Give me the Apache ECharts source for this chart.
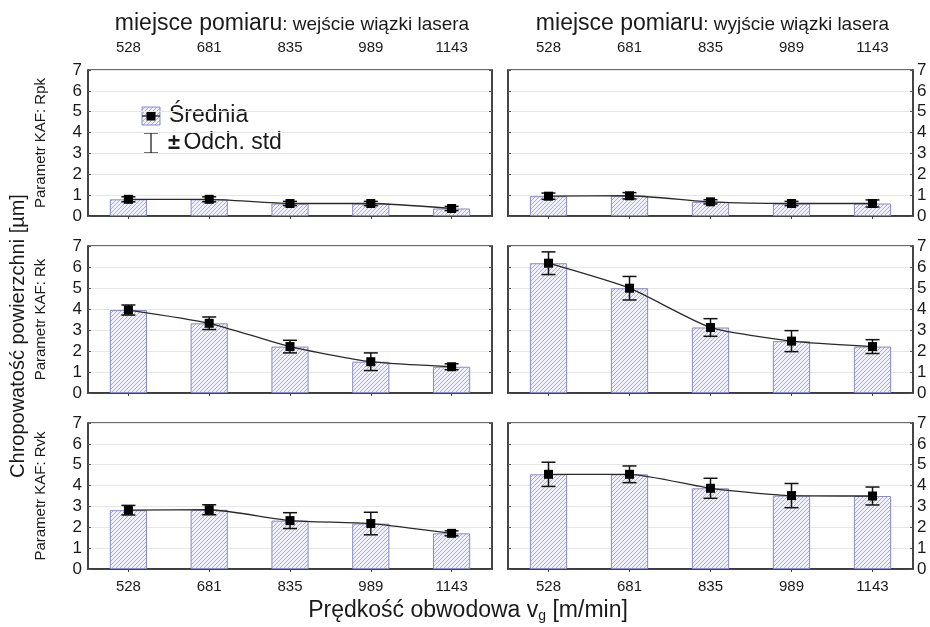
<!DOCTYPE html>
<html><head><meta charset="utf-8">
<script src="https://cdn.jsdelivr.net/npm/echarts@6/dist/echarts.min.js"></script>
<style>html,body{margin:0;padding:0;background:#fff}#c{width:930px;height:627px}</style>
</head><body><div id="c"></div>
<script>
// ---- data ----
const categories = ['528', '681', '835', '989', '1143'];
const yTicks = [0, 1, 2, 3, 4, 5, 6, 7];
const rowLabels = ['Parametr KAF: Rpk', 'Parametr KAF: Rk', 'Parametr KAF: Rvk'];
const colTitlesMain = ['miejsce pomiaru', 'miejsce pomiaru'];
const colTitlesSub = [': wejście wiązki lasera', ': wyjście wiązki lasera'];

const rpkIn = [0.80, 0.80, 0.60, 0.60, 0.36];
const rpkInSd = [0.12, 0.12, 0.10, 0.10, 0.10];
const rpkOut = [0.95, 0.97, 0.68, 0.60, 0.60];
const rpkOutSd = [0.15, 0.15, 0.10, 0.10, 0.17];
const rkIn = [3.95, 3.32, 2.21, 1.49, 1.25];
const rkInSd = [0.24, 0.30, 0.30, 0.42, 0.14];
const rkOut = [6.18, 4.99, 3.12, 2.47, 2.21];
const rkOutSd = [0.54, 0.56, 0.42, 0.50, 0.33];
const rvkIn = [2.82, 2.84, 2.32, 2.18, 1.71];
const rvkInSd = [0.23, 0.24, 0.38, 0.54, 0.12];
const rvkOut = [4.54, 4.54, 3.87, 3.52, 3.50];
const rvkOutSd = [0.58, 0.40, 0.48, 0.58, 0.43];

const panels = [
  [rpkIn, rpkInSd], [rpkOut, rpkOutSd],
  [rkIn, rkInSd], [rkOut, rkOutSd],
  [rvkIn, rvkInSd], [rvkOut, rvkOutSd]
];

// ---- hatch pattern ----
function hatch() {
  const n = 4;
  const c = document.createElement('canvas');
  c.width = n; c.height = n;
  const g = c.getContext('2d');
  g.fillStyle = '#f0f0fa'; g.fillRect(0, 0, n, n);
  g.strokeStyle = '#a6a6da'; g.lineWidth = 0.9;
  g.beginPath();
  g.moveTo(-1, n + 1); g.lineTo(n + 1, -1);
  g.moveTo(-1, 1); g.lineTo(1, -1);
  g.moveTo(n - 1, n + 1); g.lineTo(n + 1, n - 1);
  g.stroke();
  return c;
}
const pat = { image: hatch(), repeat: 'repeat' };

const FONT = 'Liberation Sans, Arial, sans-serif';
const TXT = '#1a1a1a';
const colLeft = [88, 508], colW = [404, 405];
const rowTop = [70, 246, 423], rowH = [146, 147, 146];

const grids = [], xAxes = [], yAxes = [], series = [];
panels.forEach((p, k) => {
  const r = Math.floor(k / 2), c = k % 2;
  grids.push({ left: colLeft[c], top: rowTop[r], width: colW[c], height: rowH[r],
    show: true, borderColor: '#3a3a3a', borderWidth: 1.5, backgroundColor: 'transparent' });
  xAxes.push({ type: 'category', gridIndex: k, data: categories, position: 'bottom',
    axisLine: { show: true, lineStyle: { color: '#3a3a3a', width: 1.5 } },
    axisTick: { show: true, inside: true, alignWithLabel: true, length: 3, lineStyle: { color: '#444' } },
    axisLabel: { show: r === 2, color: TXT, fontSize: 15, fontFamily: FONT, margin: 10 } });
  xAxes.push({ type: 'category', gridIndex: k, data: categories, position: 'top',
    axisLine: { show: true, lineStyle: { color: '#3a3a3a', width: 1.5 } },
    axisTick: { show: true, inside: true, alignWithLabel: true, length: 3, lineStyle: { color: '#444' } },
    axisLabel: { show: r === 0, color: TXT, fontSize: 15, fontFamily: FONT, margin: 15 } });
  const yBase = { type: 'value', gridIndex: k, min: 0, max: 7, interval: 1 };
  yAxes.push(Object.assign({}, yBase, { position: 'left',
    axisLine: { show: true, lineStyle: { color: '#3a3a3a', width: 1.5 } },
    axisTick: { show: true, inside: true, length: 3, lineStyle: { color: '#555' } },
    splitLine: { show: true, lineStyle: { color: '#e6e6e6', width: 1 } },
    axisLabel: { show: c === 0, color: TXT, fontSize: 17, fontFamily: FONT, margin: 6,
      formatter: v => yTicks.indexOf(v) >= 0 ? String(v) : '' } }));
  yAxes.push(Object.assign({}, yBase, { position: 'right',
    axisLine: { show: true, lineStyle: { color: '#3a3a3a', width: 1.5 } },
    axisTick: { show: true, inside: true, length: 3, lineStyle: { color: '#555' } },
    splitLine: { show: false },
    axisLabel: { show: c === 1, color: TXT, fontSize: 17, fontFamily: FONT, margin: 4,
      formatter: v => yTicks.indexOf(v) >= 0 ? String(v) : '' } }));
  const mean = p[0], sd = p[1];
  series.push({ type: 'bar', xAxisIndex: 2 * k, yAxisIndex: 2 * k, data: mean, barWidth: '46%',
    itemStyle: { color: pat, borderColor: '#8a8acc', borderWidth: 1 }, silent: true, z: 1 });
  series.push({ type: 'custom', xAxisIndex: 2 * k, yAxisIndex: 2 * k, z: 3, silent: true,
    data: categories.map((cat, i) => [i, mean[i] - sd[i], mean[i] + sd[i]]),
    encode: { x: 0, y: [1, 2] },
    renderItem: (params, api) => {
      const lo = api.coord([api.value(0), api.value(1)]);
      const hi = api.coord([api.value(0), api.value(2)]);
      const w = 7;
      const st = { stroke: '#111', lineWidth: 1.5, fill: 'none' };
      return { type: 'group', children: [
        { type: 'line', shape: { x1: lo[0], y1: lo[1], x2: hi[0], y2: hi[1] }, style: st },
        { type: 'line', shape: { x1: lo[0] - w, y1: lo[1], x2: lo[0] + w, y2: lo[1] }, style: st },
        { type: 'line', shape: { x1: hi[0] - w, y1: hi[1], x2: hi[0] + w, y2: hi[1] }, style: st }
      ] };
    } });
  series.push({ type: 'line', xAxisIndex: 2 * k, yAxisIndex: 2 * k, data: mean, smooth: 0.2, z: 4,
    symbol: 'rect', symbolSize: 9, showSymbol: true, silent: true,
    lineStyle: { color: '#2a2a2a', width: 1.3 }, itemStyle: { color: '#000' } });
});

const titles = [0, 1].map(c => ({
  text: '{a|' + colTitlesMain[c] + '}{b|' + colTitlesSub[c] + '}',
  left: colLeft[c] + colW[c] / 2 - 3, top: 7, textAlign: 'center',
  textStyle: { fontWeight: 'normal', rich: {
    a: { fontSize: 23, fontWeight: 'normal', fontFamily: FONT, color: TXT },
    b: { fontSize: 19, fontWeight: 'normal', fontFamily: FONT, color: TXT, padding: [3, 0, 0, 0] } } }
}));

const graphic = [
  { type: 'text', x: 18, y: 336, rotation: Math.PI / 2,
    style: { text: 'Chropowatość powierzchni [µm]', font: '20px ' + FONT, fill: TXT, align: 'center', verticalAlign: 'middle' } },
  { type: 'text', x: 468, y: 611,
    style: { text: '{t|Prędkość obwodowa v}{s|g}{t| [m/min]}', align: 'center', verticalAlign: 'middle',
      rich: { t: { fontSize: 23, fontFamily: FONT, fill: TXT },
              s: { fontSize: 14, fontFamily: FONT, fill: TXT, padding: [11, 0, 0, 0] } } } },
  // legend
  { type: 'rect', shape: { x: 142, y: 107, width: 18, height: 18 }, style: { fill: pat, stroke: '#8a8acc', lineWidth: 1 } },
  { type: 'line', shape: { x1: 142, y1: 116, x2: 160, y2: 116 }, style: { stroke: '#222', lineWidth: 1.3 } },
  { type: 'rect', shape: { x: 146.5, y: 111.5, width: 9, height: 9 }, style: { fill: '#000' } },
  { type: 'text', x: 169, y: 116, style: { text: 'Średnia', font: '23px ' + FONT, fill: TXT, verticalAlign: 'middle' } },
  { type: 'line', shape: { x1: 151, y1: 133, x2: 151, y2: 153 }, style: { stroke: '#222', lineWidth: 1.3 } },
  { type: 'line', shape: { x1: 144, y1: 133, x2: 158, y2: 133 }, style: { stroke: '#222', lineWidth: 1.3 } },
  { type: 'line', shape: { x1: 144, y1: 153, x2: 158, y2: 153 }, style: { stroke: '#222', lineWidth: 1.3 } },
  { type: 'text', x: 168, y: 143, style: { text: '{b|±} {t|Odch. std}', verticalAlign: 'middle',
      rich: { b: { fontSize: 22, fontWeight: 'bold', fontFamily: FONT, fill: TXT }, t: { fontSize: 23, fontFamily: FONT, fill: TXT } } } }
];
rowLabels.forEach((t, r) => {
  graphic.push({ type: 'text', x: 41, y: rowTop[r] + rowH[r] / 2, rotation: Math.PI / 2,
    style: { text: t, font: '15px ' + FONT, fill: TXT, align: 'center', verticalAlign: 'middle' } });
});

const chart = echarts.init(document.getElementById('c'), null, { renderer: 'canvas' });
chart.setOption({ animation: false, backgroundColor: '#fff', title: titles,
  grid: grids, xAxis: xAxes, yAxis: yAxes, series: series, graphic: graphic });
</script></body></html>
